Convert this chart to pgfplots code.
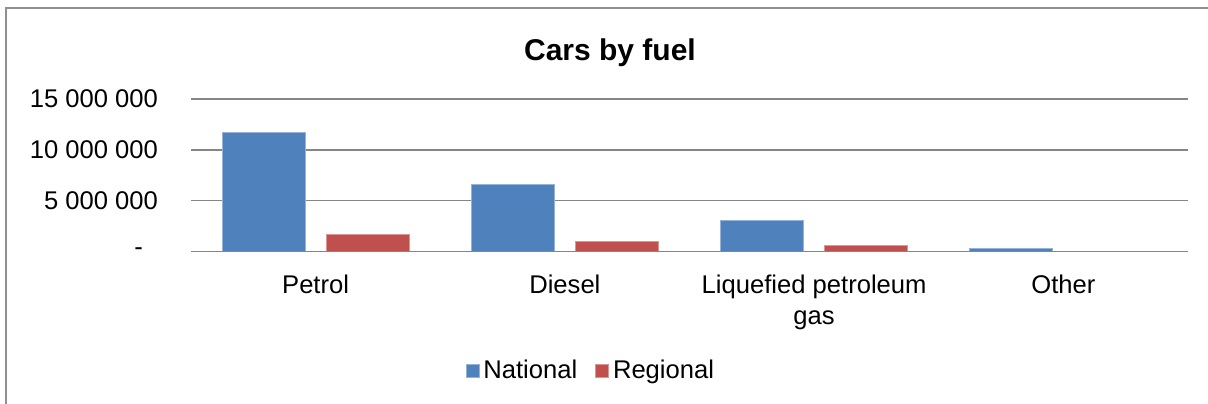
\documentclass[border=0pt]{standalone}
\usepackage{fontspec}
\setmainfont{Liberation Sans}
\usepackage{pgfplots}
\pgfplotsset{compat=1.18}

\definecolor{natblue}{HTML}{4F81BD}
\definecolor{regred}{HTML}{C0504D}
\definecolor{gridgray}{HTML}{868686}
\definecolor{framegray}{HTML}{909090}

\begin{document}
\begin{tikzpicture}
% page is 604pt x 201.5pt, i.e. 2 px per pt
\path[use as bounding box] (0,0) rectangle (604pt,201.5pt);
\draw[framegray, line width=1pt] (3pt,-5pt) -- (3pt,197.5pt) -- (620pt,197.5pt);
\node[font=\fontsize{15}{18}\selectfont\bfseries] at (305pt,175pt) {Cars by fuel};

\begin{axis}[
    at={(95.5pt,75.85pt)}, anchor=south west,
    scale only axis,
    width=498.5pt, height=76.15pt,
    ybar, bar width=41.5pt,
    xmin=-0.5, xmax=3.5,
    ymin=0, ymax=15000000,
    xtick=data,
    xticklabels={Petrol, Diesel, {Liquefied petroleum\\gas}, Other},
    ytick={0,5000000,10000000,15000000},
    yticklabels={-\hspace*{7.5pt}, 5 000 000, 10 000 000, 15 000 000},
    scaled y ticks=false,
    axis line style={draw=none},
    major tick length=0pt,
    ymajorgrids=true,
    grid style={gridgray, line width=0.8pt},
    tick label style={font=\fontsize{12.8}{15.5}\selectfont},
    xticklabel style={align=center, yshift=-8.5pt},
    yticklabel style={xshift=-13pt},
    legend columns=2,
    legend style={at={(0.402,-0.786)}, anchor=center, draw=none,
        font=\fontsize{12.8}{15.5}\selectfont,
        /tikz/every even column/.append style={column sep=7pt}},
    legend image code/.code={\fill[#1] (0pt,-3.3pt) rectangle (6.5pt,3.3pt);},
]
\addplot[fill=natblue, draw=natblue!60!white, line width=0.4pt, bar shift=-26pt]
    coordinates {(0,11670000) (1,6550000) (2,3050000) (3,300000)};
\addlegendentry{National}
\addplot[fill=regred, draw=regred!60!white, line width=0.4pt, bar shift=26pt]
    coordinates {(0,1700000) (1,980000) (2,550000) (3,20000)};
\addlegendentry{Regional}
\draw[gridgray, line width=0.8pt] (rel axis cs:0,0) -- (rel axis cs:1,0);
\end{axis}
\end{tikzpicture}
\end{document}
